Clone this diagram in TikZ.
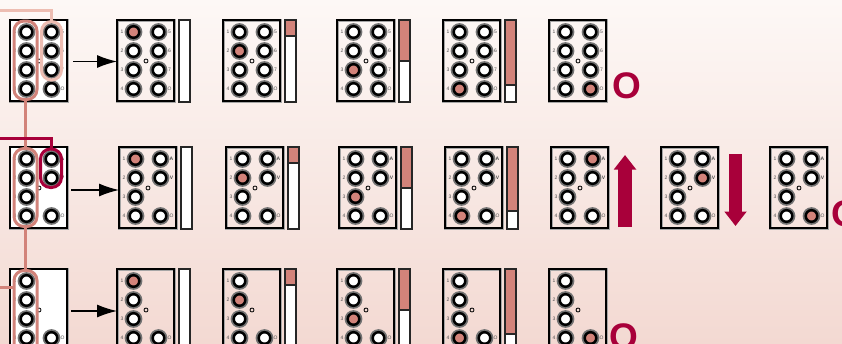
\documentclass[tikz,border=0pt]{standalone}
\usepackage{fontspec}
\setmainfont{Liberation Sans}
\usetikzlibrary{arrows.meta}
\definecolor{wine}{HTML}{A8003A}
\definecolor{salmon}{HTML}{D2837A}
\definecolor{palepink}{HTML}{EDBDB2}
\definecolor{paneltop}{HTML}{FDF8F6}
\definecolor{panelmid}{HTML}{F9E9E4}
\definecolor{panelend}{HTML}{F3D9D2}
\tikzset{
  board/.style={draw=black, line width=2.4pt, inner sep=0pt, outer sep=0pt, anchor=north west,
    minimum width=57pt, minimum height=81pt, preaction={draw=gray!70, line width=3pt}},
  hole/.style={circle, draw=black, line width=2.5pt, inner sep=0pt, outer sep=0pt, minimum size=11.6pt,
    preaction={draw=black!55, line width=6pt}},
  tag/.style={font=\fontsize{5}{5}\selectfont, text=black!70, inner sep=0pt},
  pindot/.style={circle, draw=black, line width=0.8pt, inner sep=0pt, minimum size=4pt},
  levelbar/.style={draw=black!85, fill=white, line width=1.2pt, inner sep=0pt, outer sep=0pt, anchor=north west,
    minimum width=11pt, preaction={draw=gray!70, line width=2pt}},
  pod/.style={draw=#1, line width=3pt, rounded corners=10pt, inner sep=0pt, outer sep=0pt, anchor=north west},
  wire/.style={draw=#1, line width=3pt},
  step arrow/.style={-{Latex[length=20pt,width=13pt]}, line width=1.3pt},
  big arrow/.style={draw=wine, line width=13.5pt, -{Triangle[length=14.5pt,width=21.5pt]}},
  big letter/.style={font=\fontsize{37}{37}\selectfont\bfseries, text=wine, inner sep=0pt}
}
\def\columnE{5/12/5,6/31/6,7/50/7,8/69/O}
\def\columnA{5/12/\textbf{A},6/31/\textbf{V},8/69/O}
\def\columnB{8/69/O}
% name, x, y, right column, lit hole
\newcommand{\fxboard}[6][]{
  \begin{scope}[shift={(#3,#4)}]
    \node[board, #1] (#2) at (0,0) {};
    \node[pindot] (#2-dot) at (29,41) {};
    \foreach \n/\hy/\t in {1/12/1,2/31/2,3/50/3,4/69/4} {
      \ifnum\n=#6\def\hc{salmon}\else\def\hc{white}\fi
      \node[hole, fill=\hc] (#2-\n) at (16.5,\hy) {};
      \node[tag] (#2-t\n) at (5,\hy) {\t};
    }
    \foreach \n/\hy/\t in #5 {
      \ifnum\n=#6\def\hc{salmon}\else\def\hc{white}\fi
      \node[hole, fill=\hc] (#2-\n) at (41.5,\hy) {};
      \node[tag] (#2-t\n) at (52.5,\hy) {\t};
    }
  \end{scope}
}
% name, x, y, filled part of the bar
\newcommand{\fxbar}[4]{
  \node[levelbar, minimum height=82pt] (#1) at (#2,#3) {};
  \ifnum#4>0
    \node[levelbar, fill=salmon, minimum height=#4pt] (#1-fill) at (#2,#3) {};
  \fi
}
\begin{document}
\begin{tikzpicture}[x=1pt, y=-1pt]
  \useasboundingbox (0,0) rectangle (842,343);
  \clip (0,0) rectangle (842,343);
  \shade[top color=paneltop, middle color=panelmid, bottom color=panelend] (0,0) rectangle (842,343);

  % top row
  \fxboard[fill=white]{a0}{10}{20}{\columnE}{0}
  \foreach \name/\x/\lit in {a1/117/1, a2/223/2, a3/337/3, a4/443/4, a5/549/8}
    {\fxboard{\name}{\x}{20}{\columnE}{\lit}}
  \foreach \name/\x/\lvl in {bara1/179/0, bara2/285/16, bara3/399/41, bara4/505/65}
    {\fxbar{\name}{\x}{20}{\lvl}}
  \node[big letter] (oa) at (626.5,86) {O};

  % middle row
  \fxboard[fill=white]{b0}{10}{147}{\columnA}{0}
  \foreach \name/\x/\lit in {b1/119/1, b2/226/2, b3/339/3, b4/445/4, b5/551/5, b6/661/6, b7/770/8}
    {\fxboard{\name}{\x}{147}{\columnA}{\lit}}
  \foreach \name/\x/\lvl in {barb1/181/0, barb2/288/16, barb3/401/41, barb4/507/64}
    {\fxbar{\name}{\x}{147}{\lvl}}
  \node[big letter] (ob) at (846,214) {O};

  % bottom row
  \fxboard[fill=white]{c0}{10}{269}{\columnB}{0}
  \foreach \name/\x/\lit in {c1/117/1, c2/223/2, c3/337/3, c4/443/4, c5/549/8}
    {\fxboard{\name}{\x}{269}{\columnB}{\lit}}
  \foreach \name/\x/\lvl in {barc1/179/0, barc2/285/16, barc3/399/41, barc4/505/65}
    {\fxbar{\name}{\x}{269}{\lvl}}
  \node[big letter] (oc) at (624,337) {O};

  % outlines round the first boards
  \node[pod=salmon, minimum width=23pt, minimum height=78.5pt] (poda) at (14,21) {};
  \node[pod=palepink, minimum width=20pt, minimum height=58.5pt] (podc) at (41.5,21.5) {};
  \node[pod=salmon, minimum width=23pt, minimum height=78pt] (podb) at (14,148.5) {};
  \node[pod=wine, minimum width=21pt, minimum height=38.5pt] (podd) at (40.5,149) {};
  \node[pod=salmon, minimum width=23pt, minimum height=90pt] (pode) at (14,270.5) {};

  \coordinate (feedc) at (0,10.5);
  \coordinate (feedd) at (0,138);
  \coordinate (feede) at (0,287);
  \draw[wire=palepink] (feedc) -| (podc.north);
  \draw[wire=salmon] (poda.south) -- (podb.north);
  \draw[wire=wine] (feedd) -| (podd.north);
  \draw[wire=salmon] (podb.south) -- (pode.north);
  \draw[wire=salmon] (feede) -- (feede -| pode.west);

  \coordinate (starta) at (73,61.5);
  \coordinate (startb) at (71,190);
  \coordinate (startc) at (71,311);
  \draw[step arrow] (starta) -- (starta -| a1.west);
  \draw[step arrow] (startb) -- (startb -| b1.west);
  \draw[step arrow] (startc) -- (startc -| c1.west);

  \coordinate (upfoot) at (625,227);
  \coordinate (uptip) at (625,155);
  \coordinate (downtop) at (735.5,154);
  \coordinate (downtip) at (735.5,226);
  \draw[big arrow] (upfoot) -- (uptip);
  \draw[big arrow] (downtop) -- (downtip);
\end{tikzpicture}
\end{document}
